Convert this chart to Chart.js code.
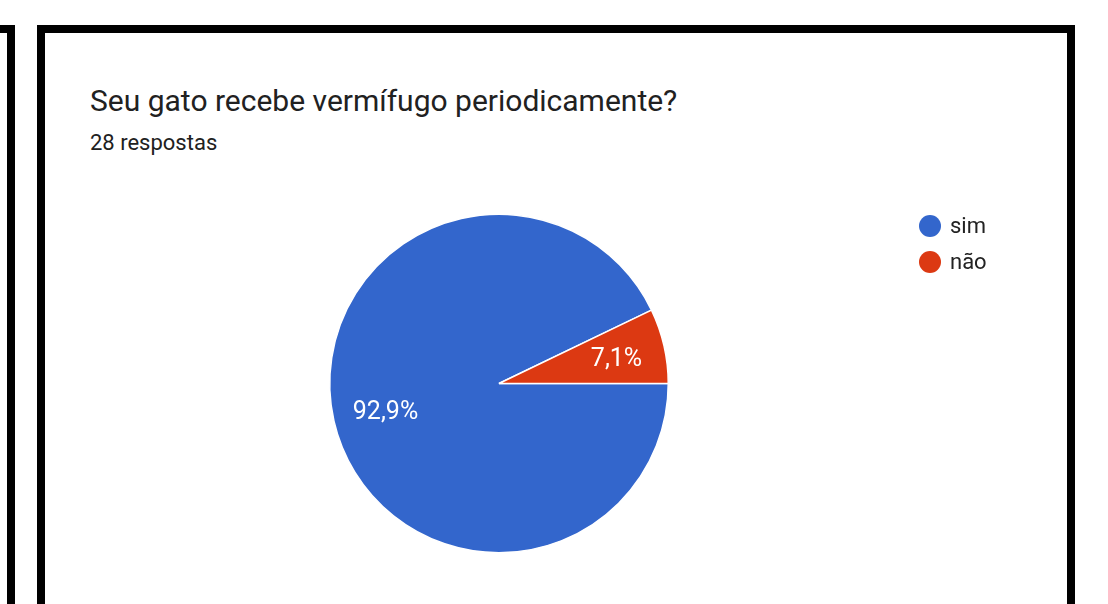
<!DOCTYPE html>
<html>
<head>
<meta charset="utf-8">
<script src="https://cdn.jsdelivr.net/npm/chart.js@4/dist/chart.umd.min.js"></script>
<style>
  html, body { margin: 0; padding: 0; background: #fff; }
  body { width: 1108px; height: 604px; position: relative; overflow: hidden; font-family: Roboto, sans-serif; }
  .bar { position: absolute; background: #000; }
  #title { position: absolute; left: 90px; top: 83px; font-size: 30px; line-height: 36px; color: #212121; white-space: nowrap; }
  #sub { position: absolute; left: 90px; top: 130px; font-size: 22px; line-height: 26px; color: #212121; white-space: nowrap; }
  #wrap { position: absolute; left: 0; top: 0; width: 1108px; height: 604px; }
</style>
</head>
<body>
<!-- frame pieces (screenshot edges) -->
<div class="bar" style="left:0;top:25px;width:15px;height:8px"></div>
<div class="bar" style="left:7px;top:25px;width:8px;height:579px"></div>
<div class="bar" style="left:37px;top:25px;width:1038px;height:8px"></div>
<div class="bar" style="left:37px;top:25px;width:8px;height:579px"></div>
<div class="bar" style="left:1067px;top:25px;width:8px;height:579px"></div>

<div id="title">Seu gato recebe vermífugo periodicamente?</div>
<div id="sub">28 respostas</div>

<div id="wrap"><canvas id="c" width="1108" height="604"></canvas></div>

<script>
const labels = ['sim', 'não'];
const counts = [26, 2];
const pctLabels = ['92,9%', '7,1%'];
const colors = ['#3366cc', '#dc3912'];

// percent text inside slices
const sliceLabels = {
  id: 'sliceLabels',
  afterDatasetsDraw(chart) {
    const ctx = chart.ctx;
    const meta = chart.getDatasetMeta(0);
    ctx.save();
    ctx.font = '25px Roboto, sans-serif';
    ctx.fillStyle = '#ffffff';
    ctx.textAlign = 'center';
    ctx.textBaseline = 'middle';
    meta.data.forEach((arc, i) => {
      const { x, y, startAngle, endAngle, outerRadius } = arc.getProps(['x', 'y', 'startAngle', 'endAngle', 'outerRadius'], true);
      const mid = (startAngle + endAngle) / 2;
      const r = outerRadius * 0.7;
      ctx.fillText(pctLabels[i], x + Math.cos(mid) * r + 2, y + Math.sin(mid) * r + 3);
    });
    ctx.restore();
  }
};

// legend with round markers, top right
const dotLegend = {
  id: 'dotLegend',
  afterDraw(chart) {
    const ctx = chart.ctx;
    ctx.save();
    ctx.font = '22px Roboto, sans-serif';
    ctx.textBaseline = 'middle';
    chart.data.labels.forEach((lab, i) => {
      const y = 226 + i * 36;
      ctx.beginPath();
      ctx.arc(930, y, 11, 0, Math.PI * 2);
      ctx.fillStyle = colors[i];
      ctx.fill();
      ctx.fillStyle = '#222222';
      ctx.fillText(lab, 950, y + 1);
    });
    ctx.restore();
  }
};

new Chart(document.getElementById('c'), {
  type: 'pie',
  data: {
    labels,
    datasets: [{ data: counts, backgroundColor: colors, borderColor: '#ffffff', borderWidth: 1.5 }]
  },
  options: {
    responsive: false, animation: false,
    rotation: 90,
    layout: { padding: { left: 329, right: 439, top: 213, bottom: 50 } },
    plugins: { legend: { display: false }, tooltip: { enabled: false }, title: { display: false } }
  },
  plugins: [sliceLabels, dotLegend]
});
</script>
</body>
</html>
